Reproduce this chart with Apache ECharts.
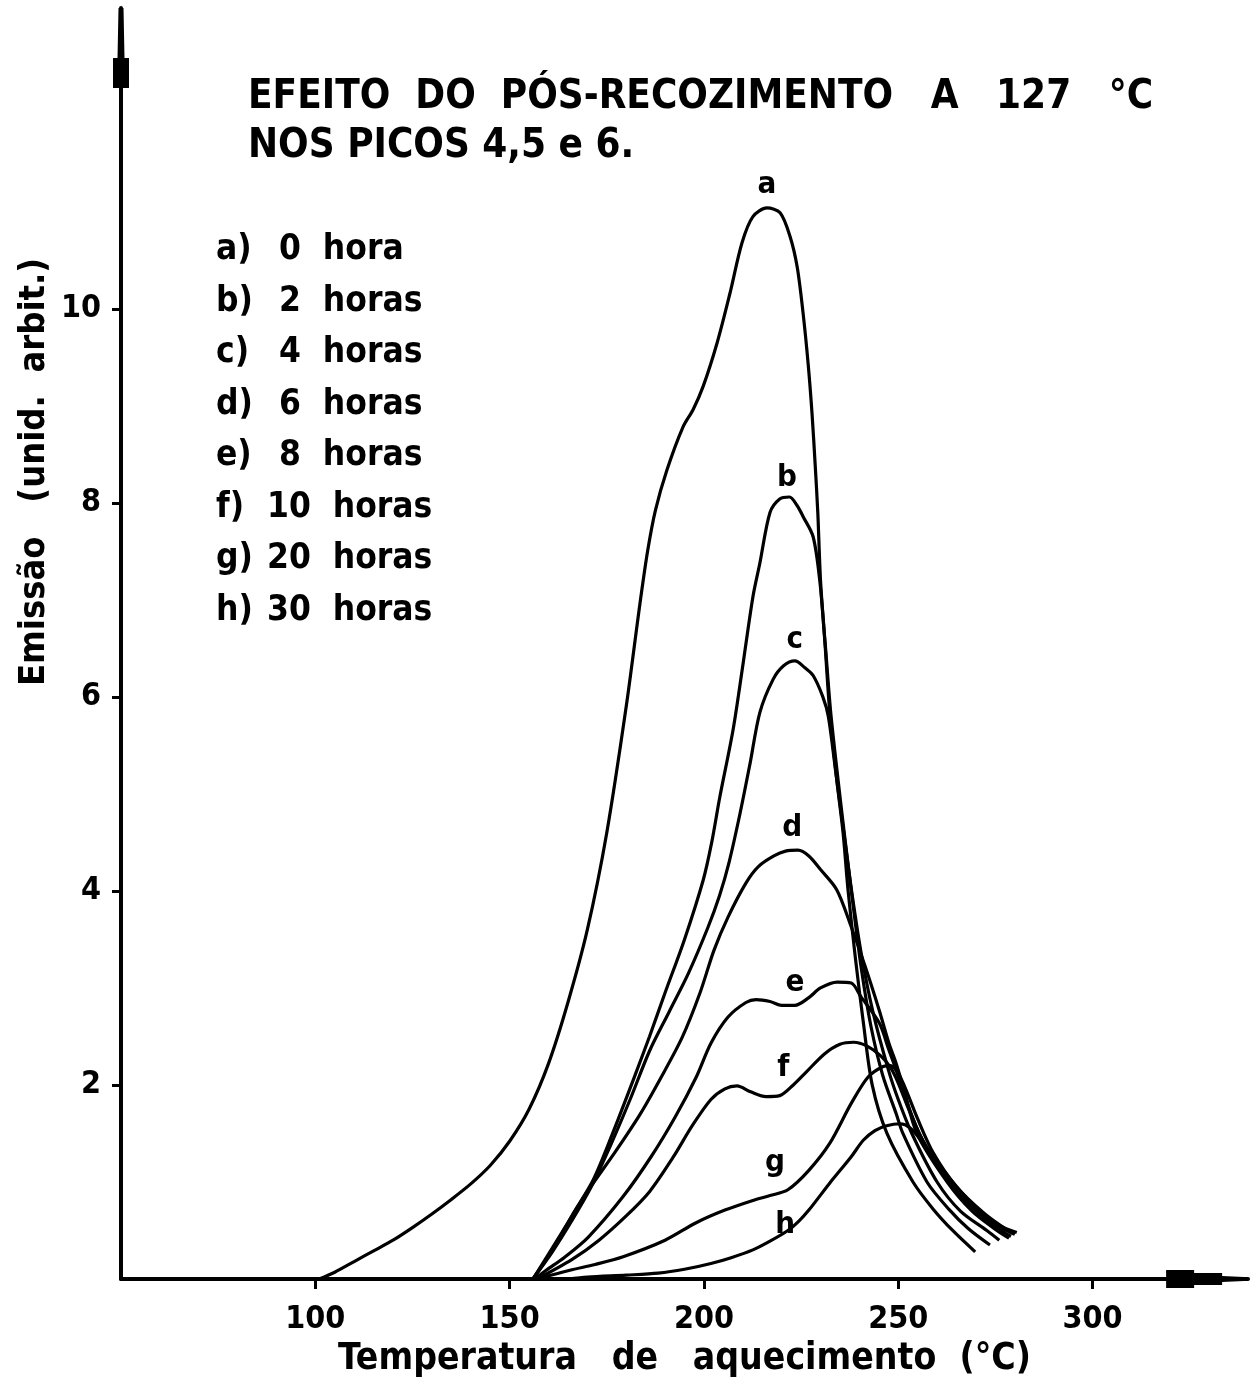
<!DOCTYPE html>
<html>
<head>
<meta charset="utf-8">
<script src="https://cdn.jsdelivr.net/npm/echarts@6/dist/echarts.min.js"></script>
<style>
  html, body { margin: 0; padding: 0; background: #ffffff; overflow: hidden; }
  #chart { width: 1255px; height: 1383px; }
</style>
</head>
<body>
<div id="chart"></div>
<script>
// Glow curves after post-annealing at 127 °C (temperature in °C, emission in arbitrary units)
const curveNames = ['a', 'b', 'c', 'd', 'e', 'f', 'g', 'h'];
const durations = ['0 hora', '2 horas', '4 horas', '6 horas', '8 horas', '10 horas', '20 horas', '30 horas'];

const curveA = [[101,0],[105,0.07],[110,0.18],[115,0.29],[120,0.4],[125,0.53],[130,0.67],[135,0.82],[140,0.98],[145,1.17],[150,1.42],[155,1.75],[160,2.22],[165,2.85],[170,3.6],[175,4.6],[180,5.9],[183.5,6.95],[185.5,7.5],[187.5,7.92],[190.5,8.34],[194.6,8.78],[197.2,8.96],[199.8,9.2],[203.4,9.65],[206.7,10.16],[209.8,10.68],[212.6,10.95],[216.2,11.04],[219.6,10.99],[222.2,10.74],[224,10.43],[225.5,9.96],[226.8,9.44],[227.8,8.93],[228.6,8.41],[229.3,7.9],[230,7.2],[231.2,6.52],[232.4,5.83],[234.2,5.14],[235.8,4.6],[237.1,4.0],[239,3.3],[241,2.65],[243.3,2.0],[247.1,1.5],[253.8,1.0],[259,0.72],[264,0.5],[269.8,0.28]];
const curveB = [[156,0],[161,0.3],[166,0.65],[171.5,1.02],[176.5,1.5],[181.8,2.05],[186,2.5],[190,2.95],[195,3.5],[199.8,4.11],[202,4.5],[204.1,4.97],[207.5,5.66],[210.1,6.35],[212.6,7.03],[214.4,7.38],[217,7.9],[219.5,8.04],[222,8.06],[224,7.97],[225.5,7.86],[228.1,7.65],[229.8,7.2],[231.2,6.55],[232.6,5.85],[234.5,5.15],[236.4,4.5],[238.4,3.85],[240.5,3.2],[243,2.6],[246,2.1],[249.5,1.7],[251.2,1.5],[257.4,1.0],[263,0.72],[268,0.52],[273.6,0.35]];
const curveC = [[156,0],[161,0.28],[166,0.6],[171,0.95],[176,1.38],[181,1.85],[186,2.35],[191,2.75],[196,3.15],[201,3.62],[204,3.95],[206.5,4.3],[209.3,4.8],[211.9,5.32],[214.4,5.84],[217.8,6.18],[220.5,6.32],[223.4,6.37],[226,6.3],[228.1,6.22],[230.6,6.0],[232,5.8],[234,5.2],[236,4.6],[238,4.0],[240.5,3.35],[243.5,2.75],[247.5,2.15],[250,1.85],[253.5,1.5],[260,1.0],[266,0.7],[272.8,0.5],[276,0.4]];
const curveD = [[156,0],[163,0.45],[170,0.9],[177,1.3],[183.6,1.7],[189,2.08],[194.4,2.49],[199,2.95],[202.6,3.39],[206.2,3.73],[210.8,4.08],[214,4.25],[218,4.36],[221,4.41],[224.2,4.42],[227,4.36],[230,4.22],[234.2,4.01],[237.9,3.63],[241.5,3.22],[245.1,2.77],[247.6,2.43],[249.4,2.23],[251.5,1.95],[254.8,1.5],[262.6,1.0],[269,0.7],[275.4,0.5],[278.5,0.42]];
const curveE = [[156.5,0],[159.4,0.09],[164,0.22],[170.2,0.43],[179.2,0.85],[186.4,1.26],[192.6,1.67],[198,2.08],[201.8,2.43],[206.2,2.7],[210.8,2.85],[213.4,2.88],[217,2.86],[220,2.82],[223.4,2.82],[227,2.9],[230,3.0],[234.3,3.06],[237.9,3.05],[240.4,2.91],[245.1,2.64],[247.6,2.36],[249.5,2.15],[252,1.85],[256,1.45],[263,1.0],[270,0.7],[276.5,0.5],[279,0.44]];
const curveF = [[157,0],[166,0.2],[173,0.4],[180,0.65],[186,0.9],[192,1.25],[197,1.58],[201.8,1.85],[205.4,1.96],[208.5,1.99],[212,1.93],[216,1.88],[219.5,1.89],[223,2.0],[226.5,2.14],[231,2.32],[235,2.42],[238.5,2.44],[242,2.4],[245.5,2.3],[248,2.18],[250,2.02],[253,1.72],[257,1.38],[264,1.0],[271,0.7],[277,0.52],[280,0.46]];
const curveG = [[157,0],[165.5,0.09],[172,0.15],[179.2,0.23],[190,0.4],[198,0.58],[205.4,0.71],[212.6,0.81],[217,0.86],[221.6,0.92],[227,1.12],[232.4,1.4],[237.9,1.81],[242.2,2.08],[246.1,2.19],[248,2.2],[250,2.12],[252,1.95],[255,1.65],[259,1.3],[265,0.95],[272,0.68],[277.5,0.52],[280,0.47]];
const curveH = [[165,0],[170,0.02],[180,0.04],[188.2,0.06],[195,0.1],[201.8,0.16],[207,0.22],[212.6,0.3],[217,0.39],[221.6,0.5],[224.5,0.6],[227,0.71],[232.4,0.99],[237.9,1.26],[241,1.43],[244,1.53],[247,1.58],[250.5,1.6],[253,1.56],[256,1.42],[260,1.17],[265,0.9],[271,0.68],[276,0.55],[280.5,0.48]];
const curves = [curveA, curveB, curveC, curveD, curveE, curveF, curveG, curveH];

// where each curve's letter is written, in chart units
const tagAt = [[216.2,11.28],[221.4,8.26],[223.4,6.59],[222.7,4.65],[223.4,3.05],[220.4,2.18],[218.3,1.2],[220.9,0.56]];

const xTicks = [100, 150, 200, 250, 300];
const yTicks = [2, 4, 6, 8, 10];

const titleLines = ['EFEITO  DO  PÓS-RECOZIMENTO   A   127   °C', 'NOS PICOS 4,5 e 6.'];
const xName = 'Temperatura   de   aquecimento  (°C)';
const yName = 'Emissão   (unid.  arbit.)';

const FONT = '"DejaVu Sans Condensed", "DejaVu Sans", sans-serif';
const INK = '#000000';
const X_MIN = 50, X_MAX = 340, Y_MIN = 0, Y_MAX = 13.1;

const chart = echarts.init(document.getElementById('chart'), null, { renderer: 'canvas' });

const series = curves.map((pts, i) => ({
  name: curveNames[i],
  type: 'line',
  data: pts,
  smooth: 0.3,
  symbol: 'none',
  lineStyle: { color: INK, width: 3.2 },
  z: 3,
  markPoint: {
    symbol: 'circle',
    symbolSize: 1,
    itemStyle: { color: 'rgba(0,0,0,0)' },
    label: {
      show: true,
      position: 'inside',
      formatter: curveNames[i],
      color: INK,
      fontFamily: FONT,
      fontWeight: 'bold',
      fontSize: 31
    },
    data: [{ coord: tagAt[i] }]
  }
}));

// key: "a)" column, then the duration starting under the digit column
const legendLines = [];
curveNames.forEach((n, i) => {
  const rowY = 250 + i * 51.5;
  legendLines.push({
    id: 'keyTag' + i, type: 'text', x: 216, y: rowY,
    style: { text: n + ')', font: 'bold 35px ' + FONT, fill: INK, verticalAlign: 'middle' }
  });
  const num = durations[i].split(' ')[0];
  legendLines.push({
    id: 'keyText' + i, type: 'text', x: num.length > 1 ? 267 : 279, y: rowY,
    style: { text: durations[i].replace(' ', '  '), font: 'bold 35px ' + FONT, fill: INK, verticalAlign: 'middle' }
  });
});

chart.setOption({
  backgroundColor: '#ffffff',
  animation: false,
  grid: { left: 121, right: 7, top: 8, bottom: 104, containLabel: false, outerBoundsMode: 'none' },
  xAxis: {
    type: 'value',
    min: X_MIN,
    max: X_MAX,
    name: xName,
    nameLocation: 'middle',
    nameGap: 62,
    nameTextStyle: { color: INK, fontFamily: FONT, fontWeight: 'bold', fontSize: 37 },
    axisLine: { show: true, onZero: false, lineStyle: { color: INK, width: 4 } },
    axisTick: { show: true, inside: false, length: 10, lineStyle: { color: INK, width: 3 }, customValues: xTicks },
    axisLabel: { show: true, margin: 25, color: INK, fontFamily: FONT, fontWeight: 'bold', fontSize: 32, customValues: xTicks },
    splitLine: { show: false }
  },
  yAxis: {
    type: 'value',
    min: Y_MIN,
    max: Y_MAX,
    axisLine: { show: true, onZero: false, lineStyle: { color: INK, width: 4 } },
    axisTick: { show: true, inside: false, length: 9, lineStyle: { color: INK, width: 3 }, customValues: yTicks },
    axisLabel: { show: true, margin: 20, color: INK, fontFamily: FONT, fontWeight: 'bold', fontSize: 32, customValues: yTicks },
    splitLine: { show: false }
  },
  graphic: [
    {
      id: 'title1', type: 'text', left: 248, top: 78,
      style: { text: titleLines[0], font: 'bold 40px ' + FONT, fill: INK }
    },
    {
      id: 'title2', type: 'text', left: 248, top: 127,
      style: { text: titleLines[1], font: 'bold 40px ' + FONT, fill: INK }
    },
    {
      id: 'yName', type: 'text',
      x: 35, y: 472,
      rotation: Math.PI / 2,
      style: { text: yName, font: 'bold 36px ' + FONT, fill: INK, align: 'center', verticalAlign: 'middle' }
    }
  ].concat(legendLines),
  series: series
});

// pen-drawn arrowheads at the far ends of both axes
const xEnd = chart.convertToPixel({ gridIndex: 0 }, [X_MAX - 1, 0]);
const yEnd = chart.convertToPixel({ gridIndex: 0 }, [X_MIN, Y_MAX]);
const xe = xEnd[0], y0 = xEnd[1];
const x0 = yEnd[0], ye = yEnd[1];
chart.setOption({
  graphic: [
    {
      id: 'xArrow', type: 'polygon', z: 10,
      shape: { points: [
        [xe - 78, y0 - 9], [xe - 50, y0 - 9], [xe - 50, y0 - 6], [xe - 22, y0 - 6], [xe - 22, y0 - 3], [xe, y0 - 2],
        [xe, y0 + 2], [xe - 22, y0 + 3], [xe - 22, y0 + 6], [xe - 50, y0 + 6], [xe - 50, y0 + 9], [xe - 78, y0 + 9]
      ] },
      style: { fill: INK }
    },
    {
      id: 'yArrow', type: 'polygon', z: 10,
      shape: { points: [
        [x0 - 2.5, ye], [x0 + 2.5, ye], [x0 + 3.5, ye + 50], [x0 + 8, ye + 50], [x0 + 8, ye + 80],
        [x0 - 8, ye + 80], [x0 - 8, ye + 50], [x0 - 3.5, ye + 50]
      ] },
      style: { fill: INK }
    }
  ]
});
</script>
</body>
</html>
